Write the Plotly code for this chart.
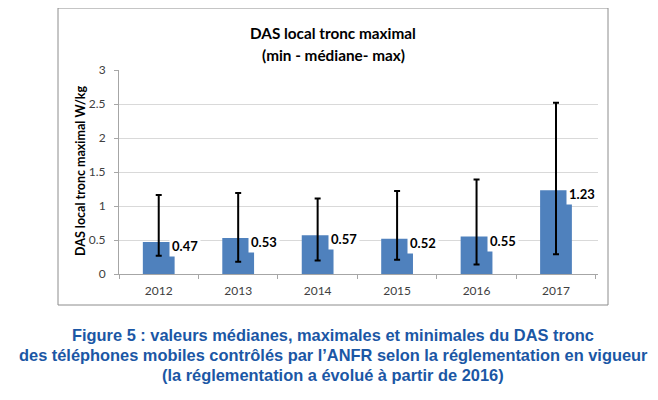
import plotly.graph_objects as go

# ---- data ----
years = ["2012", "2013", "2014", "2015", "2016", "2017"]
median = [0.47, 0.53, 0.57, 0.52, 0.55, 1.23]
max_vals = [1.16, 1.19, 1.11, 1.22, 1.39, 2.52]
min_vals = [0.27, 0.18, 0.20, 0.21, 0.14, 0.29]
ytick_vals = [0, 0.5, 1, 1.5, 2, 2.5, 3]
ytick_text = ["0", "0.5", "1", "1.5", "2", "2.5", "3"]

title_lines = ["DAS local tronc maximal", "(min - médiane- max)"]
y_title = "DAS local tronc maximal W/kg"
caption_lines = [
    "Figure 5 : valeurs médianes, maximales et minimales du DAS tronc",
    "des téléphones mobiles contrôlés par l\u2019ANFR selon la réglementation en vigueur",
    "(la réglementation a évolué à partir de 2016)",
]

# ---- layout geometry (pixels, page coords; page body has an 8px margin) ----
OFF = 8
W, H = 658 - OFF, 400 - OFF
PLOT_X0, PLOT_X1 = 119, 598     # page px
PLOT_Y0, PLOT_Y1 = 70, 274      # page px (top, bottom)
L = PLOT_X0 - OFF
R = W - (PLOT_X1 - OFF)
T = PLOT_Y0 - OFF
B = H - (PLOT_Y1 - OFF)
PW = PLOT_X1 - PLOT_X0
PH = PLOT_Y1 - PLOT_Y0


def px_x(px):
    return (px - PLOT_X0) / PW


def px_y(py):
    return (PLOT_Y1 - py) / PH


FONT = "Lato, Carlito, Calibri, sans-serif"

err_plus = [mx - md for mx, md in zip(max_vals, median)]
err_minus = [md - mn for md, mn in zip(median, min_vals)]

fig = go.Figure()
fig.add_trace(go.Bar(
    x=years,
    y=median,
    width=0.4,
    marker=dict(color="#4F81BD", line=dict(width=0)),
    error_y=dict(type="data", symmetric=False, array=err_plus,
                 arrayminus=err_minus, color="#000000", thickness=2, width=3),
    hoverinfo="skip",
))

annotations = []
# data labels with white box (overlapping bars like the original)
for i, md in enumerate(median):
    annotations.append(dict(
        x=i, y=md, xref="x", yref="y", text=f"<b>{md:.2f}</b>",
        showarrow=False, xanchor="left", yanchor="middle",
        xshift=10, yshift=-4, bgcolor="#FFFFFF", borderpad=2,
        font=dict(family=FONT, size=13, color="#000000"),
    ))

# chart title
for i, line in enumerate(title_lines):
    annotations.append(dict(
        x=px_x(333), y=px_y(33 + 22 * i), xref="paper", yref="paper",
        text=f"<b>{line}</b>", showarrow=False, xanchor="center", yanchor="middle",
        font=dict(family=FONT, size=15.3, color="#000000"),
    ))

# y axis title
annotations.append(dict(
    x=px_x(80), y=px_y(171), xref="paper", yref="paper", text=f"<b>{y_title}</b>",
    showarrow=False, textangle=-90, xanchor="center", yanchor="middle",
    font=dict(family=FONT, size=12.5, color="#000000"),
))

# caption
for i, line in enumerate(caption_lines):
    annotations.append(dict(
        x=px_x(333), y=px_y(335 + 20 * i), xref="paper", yref="paper",
        text=f"<b>{line}</b>", showarrow=False, xanchor="center", yanchor="middle",
        font=dict(family="Liberation Sans, Arial, sans-serif", size=16.4, color="#1B57A5"),
    ))

fig.update_layout(
    width=W, height=H,
    margin=dict(l=L, r=R, t=T, b=B, pad=0),
    paper_bgcolor="#FFFFFF", plot_bgcolor="#FFFFFF",
    showlegend=False,
    annotations=annotations,
    shapes=[dict(type="rect", xref="paper", yref="paper",
                 x0=px_x(58), x1=px_x(608), y0=px_y(305), y1=px_y(8),
                 line=dict(color="#8C8C8C", width=1), fillcolor="rgba(0,0,0,0)",
                 layer="below")],
    xaxis=dict(
        type="category", showgrid=False, showline=True, linecolor="#A6A6A6",
        linewidth=1, ticks="outside", tickson="boundaries", ticklen=4,
        tickcolor="#A6A6A6", ticklabelstandoff=6, automargin=False,
        tickfont=dict(family=FONT, size=12, color="#404040"),
    ),
    yaxis=dict(
        range=[0, 3], tickvals=ytick_vals, ticktext=ytick_text,
        showgrid=True, gridcolor="#D9D9D9", gridwidth=1, zeroline=False,
        showline=True, linecolor="#A6A6A6", linewidth=1, ticks="outside",
        ticklen=4, tickcolor="#A6A6A6", ticklabelstandoff=6, automargin=False,
        tickfont=dict(family=FONT, size=12, color="#404040"),
    ),
)

fig.write_html("out.html")
